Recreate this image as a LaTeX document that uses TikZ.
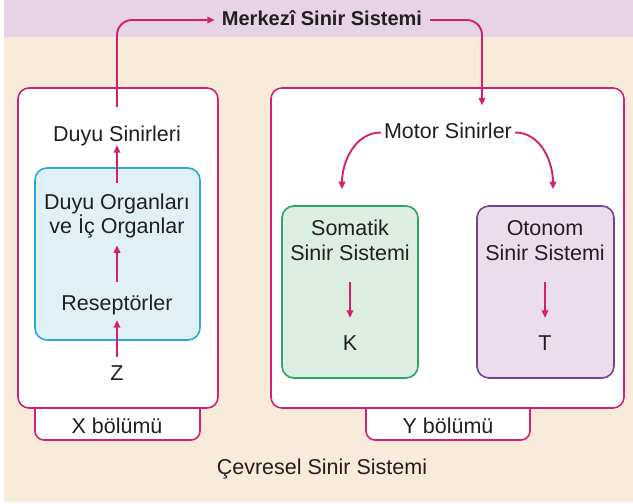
\documentclass[tikz,border=0pt]{standalone}
\usepackage{fontspec}
\setmainfont{Liberation Sans}
\usetikzlibrary{arrows.meta}
\definecolor{pk}{HTML}{D4206F}
\definecolor{lav}{HTML}{E6D3E6}
\definecolor{beige}{HTML}{F8EBDA}
\definecolor{txt}{HTML}{231F20}
\definecolor{bluefill}{HTML}{E0F1F6}
\definecolor{blueline}{HTML}{2FA8D8}
\definecolor{greenfill}{HTML}{DCEDE2}
\definecolor{greenline}{HTML}{2EA468}
\definecolor{purpfill}{HTML}{ECDDEC}
\definecolor{purpline}{HTML}{6E4592}
\begin{document}
\begin{tikzpicture}[x=1pt,y=-1pt,
  arr/.style={draw=pk, line width=1.9pt, -{Triangle[length=7.5pt,width=6.5pt]}},
  lbl/.style={font=\fontsize{21.5}{24}\selectfont, text=txt, inner sep=2pt, align=center},
  one/.style={lbl, text height=15.5pt, text depth=4.5pt},
  bigbox/.style={draw=pk, line width=1.6pt, rounded corners=11pt, fill=white, minimum height=320pt},
  tabbox/.style={draw=pk, line width=1.6pt, rounded corners=9pt, fill=white, minimum height=45pt},
  inbox/.style={line width=1.6pt, rounded corners=12pt, minimum height=172pt}
  ]
\useasboundingbox (0,0) rectangle (633,504);
\fill[white] (0,0) rectangle (633,504);
\fill[beige] (4,0) rectangle (633,502);
\fill[lav] (4,0) rectangle (633,37);

% tabs
\node[tabbox, minimum width=165pt] (xtab) at (117.5,417.5) {};
\node[tabbox, minimum width=164pt] (ytab) at (448,417.5) {};
% big boxes
\node[bigbox, minimum width=200pt] (xbox) at (118,248) {};
\node[bigbox, minimum width=353pt] (ybox) at (447.5,248) {};
% inner boxes
\node[inbox, draw=blueline, fill=bluefill, minimum width=165pt] (bbox) at (117.5,254) {};
\node[inbox, draw=greenline, fill=greenfill, minimum width=136pt] (gbox) at (350,292) {};
\node[inbox, draw=purpline, fill=purpfill, minimum width=137pt] (pbox) at (545.5,292) {};

% labels
\node[one] (xl) at (117,428) {X bölümü};
\node[one] (yl) at (448,428) {Y bölümü};
\node[one, font=\fontsize{20}{24}\selectfont\bfseries] (mss) at (322,20) {Merkezî Sinir Sistemi};
\node[one] (ds) at (117,136) {Duyu Sinirleri};
\node[lbl] (do) at (117,216) {Duyu Organları\\ve İç Organlar};
\node[one] (rs) at (117,305) {Reseptörler};
\node[one] (z) at (117,375) {Z};
\node[one] (ms) at (448,132.5) {Motor Sinirler};
\node[lbl, font=\fontsize{21.5}{25}\selectfont] (som) at (350,240.5) {Somatik\\Sinir Sistemi};
\node[lbl, font=\fontsize{21.5}{25}\selectfont] (oto) at (545,240.5) {Otonom\\Sinir Sistemi};
\node[one] (k) at (350,345) {K};
\node[one] (t) at (545,345) {T};
\node[one] (cev) at (322,469) {Çevresel Sinir Sistemi};

% connectors
\draw[arr, rounded corners=15pt, shorten >=5pt] ([yshift=17pt]ds.north) |- (mss.west);
\coordinate (yin) at ([xshift=34pt,yshift=15pt]ms.north);
\draw[arr, rounded corners=15pt, shorten <=6pt] (mss.east) -| (yin);
\draw[arr, shorten <=9pt, shorten >=-3pt] (do) -- (ds);
\draw[arr, shorten <=11pt, shorten >=5pt] (rs) -- (do);
\draw[arr, shorten <=6pt, shorten >=3pt] (z) -- (rs);
\draw[arr, shorten <=1pt] (ms.west) to[out=180,in=90] ([xshift=-8pt,yshift=16pt]gbox.north);
\draw[arr, shorten <=1pt] (ms.east) to[out=0,in=90] ([xshift=7.5pt,yshift=16pt]pbox.north);
\draw[arr, shorten <=19pt, shorten >=15pt] (som) -- (k);
\draw[arr, shorten <=19pt, shorten >=15pt] (oto) -- (t);
\end{tikzpicture}
\end{document}
